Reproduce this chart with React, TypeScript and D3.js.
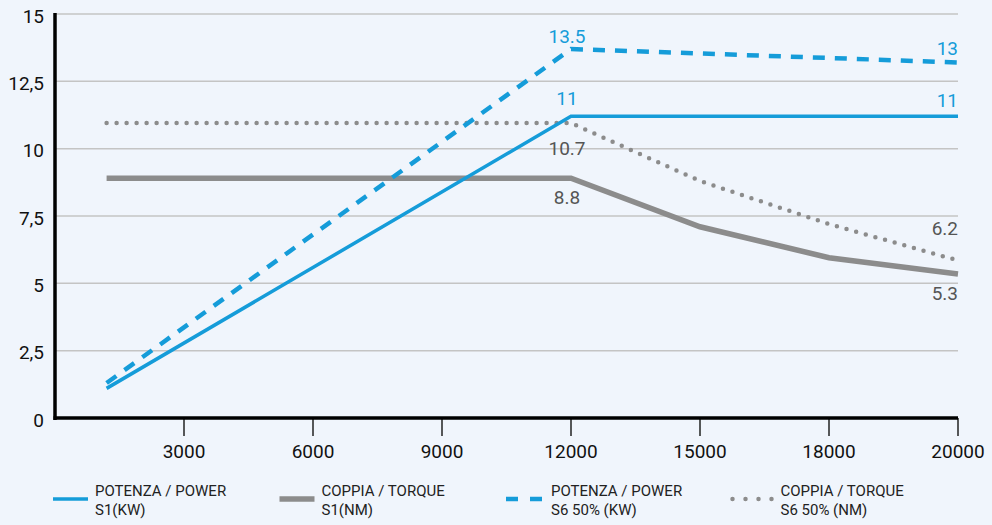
import React from 'react';
import * as d3 from 'd3';

// x axis ticks (rpm) – the axis is drawn with equal spacing between ticks
const rpmTicks = [3000, 6000, 9000, 12000, 15000, 18000, 20000];
const yTicks = [0, 2.5, 5, 7.5, 10, 12.5, 15];

// power series (kW)
const powerRpm = [1200, 12000, 20000];
const powerS1 = [1.1, 11.2, 11.2];
const powerS6 = [1.3, 13.7, 13.2];
const powerS1Labels = ['', '11', '11'];
const powerS6Labels = ['', '13.5', '13'];

// torque series (Nm)
const torqueRpm = [1200, 12000, 15000, 18000, 20000];
const torqueS1 = [8.9, 8.9, 7.1, 5.95, 5.35];
const torqueS6 = [10.95, 10.95, 8.8, 7.2, 5.85];
const torqueS1Labels = ['', '8.8', '', '', '5.3'];
const torqueS6Labels = ['', '10.7', '', '', '6.2'];

const legendItems = [
  { l1: 'POTENZA / POWER', l2: 'S1(KW)', kind: 'blue' },
  { l1: 'COPPIA / TORQUE', l2: 'S1(NM)', kind: 'gray' },
  { l1: 'POTENZA / POWER', l2: 'S6 50% (KW)', kind: 'blueDash' },
  { l1: 'COPPIA / TORQUE', l2: 'S6 50% (NM)', kind: 'grayDot' },
];

const BLUE = '#159cd9';
const GRAY = '#8c8c8c';
const LABEL_GRAY = '#555555';
const FONT = 'Roboto, sans-serif';

const width = 992;
const height = 525;
const marginLeft = 55;
const marginRight = 34;
const marginTop = 14;
const marginBottom = 106;

const App = () => {
  const xDomain = [0, ...rpmTicks];
  const step = (width - marginRight - marginLeft) / (xDomain.length - 1);
  const x = d3.scaleLinear()
    .domain(xDomain)
    .range(xDomain.map((_, i) => marginLeft + i * step));

  const y = d3.scaleLinear().domain([0, 15]).range([height - marginBottom - 1, marginTop]);

  const line = (xs: number[], ys: number[]) =>
    d3.line<number>().x((_, i) => x(xs[i])).y(d => y(d))(ys) || '';

  const x0 = marginLeft;
  const x1 = width - marginRight;
  const y0 = y(0);

  const labelStyle = { fontFamily: FONT, fontSize: 19 };

  // label helper: dy offset from the point, anchor at the last point is 'end'
  const labels = (xs: number[], ys: number[], texts: string[], color: string, offsets: number[]) =>
    texts.map((t, i) => t ? (
      <text key={color + i + t} x={x(xs[i]) + (i === xs.length - 1 ? 0 : -4)} y={y(ys[i]) + offsets[i]}
        textAnchor={i === xs.length - 1 ? 'end' : 'middle'} dominantBaseline="central"
        fill={color} style={labelStyle}>{t}</text>
    ) : null);

  return (
    <svg width={width} height={height} style={{ position: 'absolute', left: 0, top: 0 }}>
      <rect width={width} height={height} fill="#f0f5fc" />

      {/* gridlines */}
      {yTicks.filter(t => t > 0).map(t => (
        <line key={t} x1={x0} x2={x1} y1={y(t)} y2={y(t)} stroke="#c4c4c4" strokeWidth={1.5} />
      ))}

      {/* y tick labels */}
      {yTicks.map(t => (
        <text key={t} x={44} y={y(t) + 2} textAnchor="end" dominantBaseline="central"
          style={{ fontFamily: FONT, fontSize: 19 }} fill="#111">
          {String(t).replace('.', ',')}
        </text>
      ))}

      {/* x ticks */}
      {rpmTicks.map(t => (
        <g key={t} transform={`translate(${x(t)},0)`}>
          <line y1={y0} y2={y0 + 18} stroke="#222" strokeWidth={1.5} />
          <text y={y0 + 33} textAnchor="middle" dominantBaseline="central"
            style={{ fontFamily: FONT, fontSize: 19 }} fill="#111">{t}</text>
        </g>
      ))}

      {/* series */}
      <path d={line(torqueRpm, torqueS6)} fill="none" stroke={GRAY} strokeWidth={4.5}
        strokeDasharray="0 10" strokeLinecap="round" />
      <path d={line(torqueRpm, torqueS1)} fill="none" stroke={GRAY} strokeWidth={5.5} />
      <path d={line(powerRpm, powerS6)} fill="none" stroke={BLUE} strokeWidth={4.5}
        strokeDasharray="12 10" />
      <path d={line(powerRpm, powerS1)} fill="none" stroke={BLUE} strokeWidth={3.5} />

      {/* axes */}
      <line x1={x0} x2={x0} y1={marginTop - 1} y2={y0 + 2} stroke="#000" strokeWidth={3.5} />
      <line x1={x0 - 1.5} x2={x1} y1={y0} y2={y0} stroke="#000" strokeWidth={3.5} />

      {/* data labels */}
      {labels(powerRpm, powerS6, powerS6Labels, BLUE, [0, -13, -14])}
      {labels(powerRpm, powerS1, powerS1Labels, BLUE, [0, -18, -16])}
      {labels(torqueRpm, torqueS6, torqueS6Labels, LABEL_GRAY, [0, 25, 0, 0, -32])}
      {labels(torqueRpm, torqueS1, torqueS1Labels, LABEL_GRAY, [0, 19, 0, 0, 20])}

      {/* legend */}
      {legendItems.map((item, i) => {
        const lx = 53 + i * 226.5;
        const ly = 499;
        let mark;
        if (item.kind === 'blue') {
          mark = <line x1={lx} x2={lx + 35} y1={ly} y2={ly} stroke={BLUE} strokeWidth={3.5} />;
        } else if (item.kind === 'gray') {
          mark = <line x1={lx} x2={lx + 35} y1={ly} y2={ly} stroke={GRAY} strokeWidth={5.5} />;
        } else if (item.kind === 'blueDash') {
          mark = <line x1={lx} x2={lx + 36} y1={ly} y2={ly} stroke={BLUE} strokeWidth={4.5} strokeDasharray="12 12" />;
        } else {
          mark = <line x1={lx} x2={lx + 40} y1={ly} y2={ly} stroke={GRAY} strokeWidth={4.5}
            strokeDasharray="0 13" strokeLinecap="round" />;
        }
        const tx = lx + (item.kind === 'grayDot' ? 48 : item.kind === 'blueDash' ? 45 : 42);
        return (
          <g key={i}>
            {mark}
            <text x={tx} y={491} dominantBaseline="central" fill="#222"
              style={{ fontFamily: FONT, fontSize: 15 }}>{item.l1}</text>
            <text x={tx} y={510} dominantBaseline="central" fill="#222"
              style={{ fontFamily: FONT, fontSize: 15 }}>{item.l2}</text>
          </g>
        );
      })}
    </svg>
  );
};

export default App;
